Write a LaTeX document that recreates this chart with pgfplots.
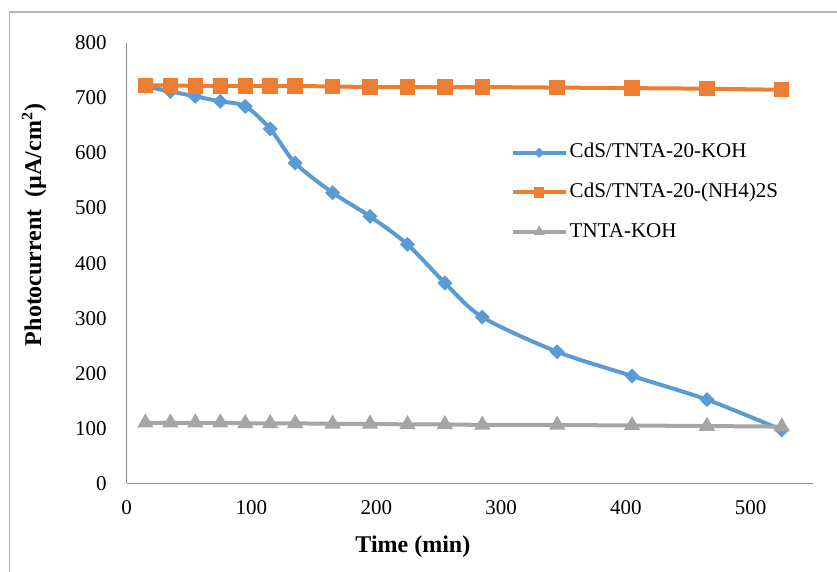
\documentclass[border=0pt]{standalone}
\usepackage{fontspec}
\setmainfont{Liberation Serif}
\usepackage{pgfplots}
\pgfplotsset{compat=1.18}
\definecolor{cblue}{HTML}{5B9BD5}
\definecolor{corange}{HTML}{ED7D31}
\definecolor{cgray}{HTML}{A5A5A5}
\definecolor{caxis}{HTML}{8C8C8C}
\definecolor{cframe}{HTML}{B4B4B4}
\pgfplotstableread{
x    blue  orange gray
15   721   723    110
35   712   723    110
55   703   722    110
75   694   722    110
95   685   722    109
115  644   722    109
135  582   722    109
165  528   721    108
195  485   720    108
225  434   720    107
255  364   720    107
285  302   720    106
345  239   719    106
405  195   718    105
465  152   717    104
525   97   715    103
}\datatable
\begin{document}
\begin{tikzpicture}
\useasboundingbox (0,0) rectangle (418.5pt,286pt);
\draw[color=cframe, line width=0.8pt] (4.75pt,-10pt) -- (4.75pt,280pt) -- (430pt,280pt);
\begin{axis}[
  at={(63.35pt,44.35pt)}, anchor=south west,
  scale only axis, width=343.15pt, height=220.15pt,
  xmin=0, xmax=550, ymin=0, ymax=800,
  axis x line=bottom, axis y line=left,
  axis line style={-, draw=caxis, line width=0.6pt},
  xtick={0,100,...,500}, ytick={0,100,...,800},
  major tick length=0pt, tick style={draw=none},
  ticklabel style={font=\fontsize{10.5}{12}\selectfont},
  /pgf/number format/assume math mode=true,
  xticklabel style={inner sep=0pt, anchor=north, yshift=-8.3pt},
  yticklabel style={inner sep=0pt, anchor=east, xshift=-9.8pt},
  xlabel={Time (min)},
  ylabel={Photocurrent\ \ (µA/cm\textsuperscript{2})},
  every axis x label/.style={at={(axis description cs:0.417,-0.1449)}, anchor=center, font=\bfseries\fontsize{12}{14}\selectfont},
  every axis y label/.style={at={(axis description cs:-0.135,0.587)}, rotate=90, anchor=center, font=\bfseries\fontsize{12}{14}\selectfont},
  legend style={at={(axis description cs:0.559,0.778)}, anchor=north west, draw=none, fill=none, inner sep=0pt, row sep=8.2pt,
    nodes={inner sep=1pt, text height=7.4pt, text depth=2.2pt}, font=\fontsize{10.5}{12}\selectfont},
  legend cell align=left,
  legend image code/.code={\draw[mark repeat=2, mark phase=2, every mark/.append style={scale=0.65}] plot coordinates {(0pt,0pt) (13.25pt,0pt) (26.5pt,0pt)};},
  clip=false,
]
\addplot[color=cblue, line width=2pt, smooth, tension=0.5, mark=square*, mark size=2.4pt, mark options={rotate=45, fill=cblue, draw=cblue, line width=0.5pt}] table[x=x, y=blue] {\datatable};
\addlegendentry{CdS/TNTA-20-KOH}
\addplot[color=corange, line width=2pt, mark=square*, mark size=3.6pt, mark options={fill=corange, draw=corange, line width=0.5pt}] table[x=x, y=orange] {\datatable};
\addlegendentry{CdS/TNTA-20-(NH4)2S}
\addplot[color=cgray, line width=2pt, mark=triangle*, mark size=4.2pt, mark options={fill=cgray, draw=cgray, line width=0.5pt}] table[x=x, y=gray] {\datatable};
\addlegendentry{TNTA-KOH}
\end{axis}
\end{tikzpicture}
\end{document}
